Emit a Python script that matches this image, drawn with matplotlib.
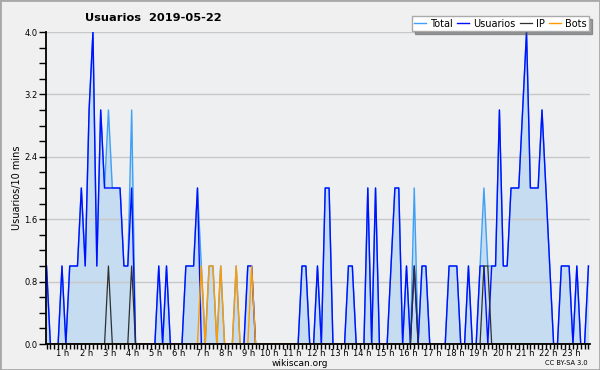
import matplotlib.pyplot as plt
import numpy as np
from matplotlib.patches import Rectangle
from matplotlib.ticker import FixedLocator, MultipleLocator

# one value per 10 minutes, 00:00 -> 23:20
usuarios = [1, 0, 0, 0, 1, 0, 1, 1, 1, 2, 1, 3,
            4, 1, 3, 2, 2, 2, 2, 2, 1, 1, 2, 0,
            0, 0, 0, 0, 0, 1, 0, 1, 0, 0, 0, 0,
            1, 1, 1, 2, 0, 0, 0, 0, 0, 0, 0, 0,
            0, 0, 0, 0, 1, 1, 0, 0, 0, 0, 0, 0,
            0, 0, 0, 0, 0, 0, 1, 1, 0, 0, 1, 0,
            2, 2, 0, 0, 0, 0, 1, 1, 0, 0, 0, 2,
            0, 2, 0, 0, 0, 1, 2, 2, 0, 1, 0, 1,
            0, 1, 1, 0, 0, 0, 0, 0, 1, 1, 1, 0,
            0, 1, 0, 0, 1, 1, 0, 1, 1, 3, 1, 1,
            2, 2, 2, 3, 4, 2, 2, 2, 3, 2, 1, 0,
            0, 1, 1, 1, 0, 1, 0, 0, 1]
total = [1, 0, 0, 0, 1, 0, 1, 1, 1, 2, 1, 3,
         4, 1, 3, 2, 3, 2, 2, 2, 1, 1, 3, 0,
         0, 0, 0, 0, 0, 1, 0, 1, 0, 0, 0, 0,
         1, 1, 1, 2, 1, 0, 1, 1, 0, 1, 0, 0,
         0, 1, 0, 0, 1, 1, 0, 0, 0, 0, 0, 0,
         0, 0, 0, 0, 0, 0, 1, 1, 0, 0, 1, 0,
         2, 2, 0, 0, 0, 0, 1, 1, 0, 0, 0, 2,
         0, 2, 0, 0, 0, 1, 2, 2, 0, 1, 0, 2,
         0, 1, 1, 0, 0, 0, 0, 0, 1, 1, 1, 0,
         0, 1, 0, 0, 1, 2, 1, 1, 1, 3, 1, 1,
         2, 2, 2, 3, 4, 2, 2, 2, 3, 2, 1, 0,
         0, 1, 1, 1, 0, 1, 0, 0, 1]
ip = [0, 0, 0, 0, 0, 0, 0, 0, 0, 0, 0, 0,
      0, 0, 0, 0, 1, 0, 0, 0, 0, 0, 1, 0,
      0, 0, 0, 0, 0, 0, 0, 0, 0, 0, 0, 0,
      0, 0, 0, 0, 0, 0, 0, 0, 0, 0, 0, 0,
      0, 0, 0, 0, 0, 0, 0, 0, 0, 0, 0, 0,
      0, 0, 0, 0, 0, 0, 0, 0, 0, 0, 0, 0,
      0, 0, 0, 0, 0, 0, 0, 0, 0, 0, 0, 0,
      0, 0, 0, 0, 0, 0, 0, 0, 0, 0, 0, 1,
      0, 0, 0, 0, 0, 0, 0, 0, 0, 0, 0, 0,
      0, 0, 0, 0, 0, 1, 1, 0, 0, 0, 0, 0,
      0, 0, 0, 0, 0, 0, 0, 0, 0, 0, 0, 0,
      0, 0, 0, 0, 0, 0, 0, 0, 0]
bots = [0, 0, 0, 0, 0, 0, 0, 0, 0, 0, 0, 0,
        0, 0, 0, 0, 0, 0, 0, 0, 0, 0, 0, 0,
        0, 0, 0, 0, 0, 0, 0, 0, 0, 0, 0, 0,
        0, 0, 0, 0, 1, 0, 1, 1, 0, 1, 0, 0,
        0, 1, 0, 0, 0, 1, 0, 0, 0, 0, 0, 0,
        0, 0, 0, 0, 0, 0, 0, 0, 0, 0, 0, 0,
        0, 0, 0, 0, 0, 0, 0, 0, 0, 0, 0, 0,
        0, 0, 0, 0, 0, 0, 0, 0, 0, 0, 0, 0,
        0, 0, 0, 0, 0, 0, 0, 0, 0, 0, 0, 0,
        0, 0, 0, 0, 0, 0, 0, 0, 0, 0, 0, 0,
        0, 0, 0, 0, 0, 0, 0, 0, 0, 0, 0, 0,
        0, 0, 0, 0, 0, 0, 0, 0, 0]
hour_labels = ['%d h' % h for h in range(1, 24)]
y_ticks = [0.0, 0.8, 1.6, 2.4, 3.2, 4.0]

plt.rcParams['font.family'] = 'DejaVu Sans'

fig = plt.figure(figsize=(6, 3.7), dpi=100, facecolor='#f0f0f0')
fig.patches.append(Rectangle((0, 0), 1, 1, transform=fig.transFigure, fill=False,
                             edgecolor='#a8a8a8', lw=2))

ax = fig.add_axes([46 / 600, 26 / 370, 544 / 600, 312 / 370])
ax.set_facecolor('#eeeff1')

x = np.arange(len(usuarios))
ax.fill_between(x, total, color='#c6dcf0', lw=0, zorder=0.4)
ax.plot(x, total, color='#3fa0f5', lw=1.0, label='Total')
ax.plot(x, usuarios, color='#0010ff', lw=1.0, label='Usuarios')
ax.plot(x, ip, color='#303030', lw=0.9, label='IP')
ax.plot(x, bots, color='#ff9a00', lw=1.0, label='Bots')

ax.set_xlim(-0.13, 140.4)
ax.set_ylim(0, 4.0)

# axes and grid
for s in ['top', 'right']:
    ax.spines[s].set_visible(False)
for s in ['left', 'bottom']:
    ax.spines[s].set_linewidth(1.3)
    ax.spines[s].set_zorder(5)
ax.set_axisbelow(True)
ax.yaxis.grid(True, color='#c8c8c8', lw=1)

ax.set_yticks(y_ticks)
ax.set_yticklabels(['%.1f' % v for v in y_ticks], fontsize=6)
ax.yaxis.set_minor_locator(MultipleLocator(0.2))
ax.tick_params(axis='y', which='both', direction='out', length=5, width=1, pad=1)

ax.xaxis.set_major_locator(FixedLocator([6 * h for h in range(1, 24)]))
ax.set_xticklabels(hour_labels, fontsize=6, ha='right')
ax.xaxis.set_minor_locator(MultipleLocator(1))
ax.tick_params(axis='x', which='both', direction='out', length=3.5, width=1, pad=0)

ax.set_ylabel('Usuarios/10 mins', fontsize=7, labelpad=2)

fig.text(85 / 600, 1 - 18 / 370, 'Usuarios  2019-05-22', fontsize=8.2,
         fontweight='bold', ha='left', va='center')
fig.text(300 / 600, 1 - 364 / 370, 'wikiscan.org', fontsize=6.5, ha='center', va='center')
fig.text(588 / 600, 1 - 363 / 370, 'CC BY-SA 3.0', fontsize=4.8, ha='right', va='center')

leg = ax.legend(loc='lower right', bbox_to_anchor=(1.0, 1.0), ncol=4, fontsize=7,
                handlelength=1.2, handletextpad=0.4, columnspacing=0.5,
                borderpad=0.25, borderaxespad=0.1, fancybox=False, shadow=True,
                framealpha=1, edgecolor='#aaaaaa')

fig.savefig('out.png', dpi=100, facecolor=fig.get_facecolor())
